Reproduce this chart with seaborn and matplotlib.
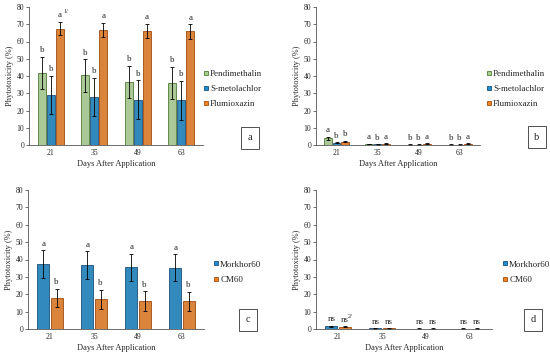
import pandas as pd
import matplotlib.pyplot as plt
import seaborn as sns
from matplotlib.lines import Line2D

# Du lieu doc tu hinh
days = ['21', '35', '49', '63']
herb = ['Pendimethalin', 'S-metolachlor', 'Flumioxazin']
variety = ['Morkhor60', 'CM60']

a_mean = {'Pendimethalin': [41.8, 40.3, 36.5, 36.0],
          'S-metolachlor': [29.0, 28.0, 26.2, 26.0],
          'Flumioxazin': [67.5, 66.8, 66.0, 65.8]}
a_err = {'Pendimethalin': [9.2, 9.3, 9.5, 9.5],
         'S-metolachlor': [11.0, 11.0, 11.3, 11.3],
         'Flumioxazin': [4.0, 4.0, 4.2, 4.2]}
a_let = {'Pendimethalin': ['b', 'b', 'b', 'b'],
         'S-metolachlor': ['b', 'b', 'b', 'b'],
         'Flumioxazin': ['a', 'a', 'a', 'a']}

b_mean = {'Pendimethalin': [3.8, 0.5, 0.2, 0.2],
          'S-metolachlor': [1.3, 0.3, 0.2, 0.2],
          'Flumioxazin': [1.9, 0.8, 0.7, 0.7]}
b_err = {'Pendimethalin': [0.8, 0.2, 0.1, 0.1],
         'S-metolachlor': [0.3, 0.1, 0.1, 0.1],
         'Flumioxazin': [0.4, 0.3, 0.3, 0.3]}
b_let = {'Pendimethalin': ['a', 'a', 'b', 'b'],
         'S-metolachlor': ['b', 'b', 'b', 'b'],
         'Flumioxazin': ['b', 'a', 'a', 'a']}

c_mean = {'Morkhor60': [37.2, 36.8, 35.5, 35.2],
          'CM60': [18.0, 17.1, 16.1, 15.9]}
c_err = {'Morkhor60': [8.0, 8.0, 7.8, 7.8],
         'CM60': [5.3, 5.5, 5.5, 5.5]}
c_let = {'Morkhor60': ['a', 'a', 'a', 'a'],
         'CM60': ['b', 'b', 'b', 'b']}

d_mean = {'Morkhor60': [1.5, 0.3, 0.2, 0.2],
          'CM60': [1.2, 0.3, 0.2, 0.2]}
d_err = {'Morkhor60': [0.5, 0.1, 0.1, 0.1],
         'CM60': [0.3, 0.1, 0.1, 0.1]}
d_let = {'Morkhor60': ['ns', 'ns', 'ns', 'ns'],
         'CM60': ['ns', 'ns', 'ns', 'ns']}

fill = {'Pendimethalin': '#a9d18e', 'S-metolachlor': '#1b8fd2', 'Flumioxazin': '#f58220',
        'Morkhor60': '#1b8fd2', 'CM60': '#f58220'}
edge = {'Pendimethalin': '#4f7a35', 'S-metolachlor': '#1f4e79', 'Flumioxazin': '#a04a0e',
        'Morkhor60': '#1f4e79', 'CM60': '#a04a0e'}

sns.set_theme(style='white')
plt.rcParams['font.family'] = ['Liberation Serif', 'DejaVu Serif']
axcol = '#555555'

fig = plt.figure(figsize=(5.5, 3.59), dpi=100)


def panel(rect, groups, mean, err, lets, width, leg_xy, sup=None):
    ax = fig.add_axes(rect)
    df = pd.DataFrame([(d, g, mean[g][i]) for g in groups for i, d in enumerate(days)],
                      columns=['day', 'group', 'value'])
    sns.barplot(data=df, x='day', y='value', hue='group', hue_order=groups, order=days,
                palette=[fill[g] for g in groups], errorbar=None, width=width, gap=0.08,
                linewidth=0.6, ax=ax, legend=False)
    for g, cont in zip(groups, ax.containers):
        for i, bar in enumerate(cont):
            bar.set_edgecolor(edge[g])
            xc = bar.get_x() + bar.get_width() / 2
            h = bar.get_height()
            ax.errorbar(xc, h, yerr=err[g][i], color='black', lw=0.6, capsize=1.5,
                        capthick=0.6)
            ax.text(xc, h + err[g][i] + 1.5, lets[g][i], ha='center', va='bottom',
                    fontsize=6.5)
            # chu thich mu 1/, 2/
            if sup is not None and (g, i) == sup[0]:
                ax.annotate(sup[1], xy=(xc, h + err[g][i] + 1.5), xytext=(2.5, 3.5),
                            textcoords='offset points', fontsize=4.5, ha='left',
                            va='bottom')
    ax.set_ylim(0, 80)
    ax.set_xlim(-0.5, 3.5)
    ax.set_yticks(range(0, 81, 10))
    ax.set_xlabel('Days After Application', fontsize=6, labelpad=2)
    ax.set_ylabel('Phytotoxicity (%)', fontsize=6, labelpad=2)
    ax.tick_params(axis='y', direction='out', length=2, width=0.6, color=axcol,
                   labelsize=5.5, pad=1.5, left=True)
    ax.tick_params(axis='x', length=0, labelsize=5.5, pad=3)
    sns.despine(ax=ax)
    for s in ['left', 'bottom']:
        ax.spines[s].set_color(axcol)
        ax.spines[s].set_linewidth(0.6)
    handles = [Line2D([], [], marker='s', ls='', markersize=3.5, markerfacecolor=fill[g],
                      markeredgecolor=edge[g], markeredgewidth=0.6) for g in groups]
    fig.legend(handles, groups, loc='center left', bbox_to_anchor=leg_xy, frameon=False,
               fontsize=6.5, handlelength=0.6, handletextpad=0.2, labelspacing=0.75,
               borderpad=0, borderaxespad=0)
    return ax


panel([29 / 550, 1 - 145 / 359, 174 / 550, 138 / 359], herb, a_mean, a_err, a_let, 0.62,
      (203 / 550, 1 - 89 / 359), sup=(('Flumioxazin', 0), '1/'))
panel([316 / 550, 1 - 145 / 359, 164 / 550, 138 / 359], herb, b_mean, b_err, b_let, 0.62,
      (486 / 550, 1 - 89 / 359))
panel([28 / 550, 1 - 329 / 359, 176 / 550, 139 / 359], variety, c_mean, c_err, c_let, 0.6,
      (213 / 550, 1 - 272 / 359))
panel([316 / 550, 1 - 329 / 359, 176 / 550, 139 / 359], variety, d_mean, d_err, d_let, 0.6,
      (502 / 550, 1 - 272 / 359), sup=(('CM60', 0), '2/'))

# o nhan a, b, c, d
for tag, x, y in [('a', 250, 138), ('b', 537, 137), ('c', 248, 320), ('d', 533, 320)]:
    fig.text(x / 550, 1 - y / 359, tag, ha='center', va='center', fontsize=7.5,
             bbox=dict(boxstyle='square,pad=0.6', fc='white', ec='#333333', lw=0.6))

plt.savefig('out.png', dpi=100)
